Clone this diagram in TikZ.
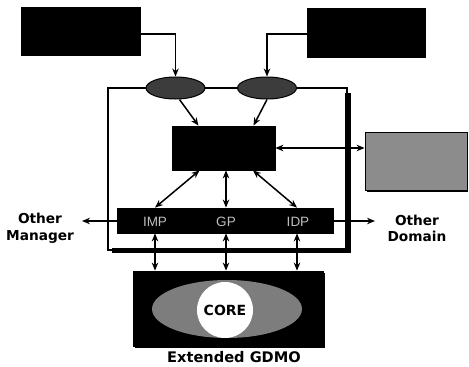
\documentclass[tikz,border=0pt]{standalone}
\usepackage{fontspec}
\setmainfont{DejaVu Sans}
\newfontfamily\libsans{Liberation Sans}
\usetikzlibrary{arrows.meta,calc,shapes.geometric}
\definecolor{midgray}{RGB}{140,140,140}
\definecolor{ellgray}{RGB}{60,60,60}
\definecolor{coregray}{RGB}{125,125,125}
\definecolor{lbltxt}{RGB}{190,190,190}
\begin{document}
\begin{tikzpicture}[x=1pt,y=-1pt,
  tip/.tip={Stealth[length=8pt,width=6.5pt]},
  arr/.style={line width=1.5pt,-tip},
  darr/.style={line width=1.5pt,tip-tip},
  blackbox/.style={draw=black,fill=black,inner sep=0pt,line width=0.8pt},
  topell/.style={ellipse,draw=black,fill=ellgray,line width=1pt,inner sep=0pt,minimum width=59pt,minimum height=22pt},
  lbl/.style={font=\bfseries\fontsize{13.7}{16.5}\selectfont,align=center,inner sep=0pt},
  bartxt/.style={font=\libsans\fontsize{13.5}{14}\selectfont,text=lbltxt,inner sep=0pt}
]
\useasboundingbox (0,0) rectangle (469,367);

% frame with shadow
\fill (345,93) rectangle (351,253);
\fill (112,248) rectangle (351,253);
\node[draw=black,line width=2pt,inner sep=0pt,minimum width=239pt,minimum height=162pt] (fr) at (227.5,169) {};

% top boxes
\node[blackbox,minimum width=119pt,minimum height=48pt] (tl) at (80.5,31) {};
\node[blackbox,minimum width=118pt,minimum height=49pt] (tr) at (366,32.5) {};

% ellipses
\node[topell] (e1) at (175.5,88) {};
\node[topell] (e2) at (267,88) {};

% central box
\node[blackbox,minimum width=103pt,minimum height=44pt] (cb) at (223.5,148) {};

% gray box with shadow
\fill (367,134) rectangle (468,192);
\node[draw=black,fill=midgray,line width=0.8pt,inner sep=0pt,minimum width=102pt,minimum height=58pt] (gb) at (416,161) {};

% protocol bar
\node[blackbox,minimum width=216pt,minimum height=25pt] (bar) at (225,220.5) {};
\node[bartxt] (imp) at (155,222) {IMP};
\node[bartxt] (gp) at (226,222) {GP};
\node[bartxt] (idp) at (298,222) {IDP};

% bottom box
\fill (135,273) rectangle (325,348);
\node[blackbox,minimum width=190pt,minimum height=75pt] (bb) at (228,308.5) {};
\node[ellipse,fill=coregray,inner sep=0pt,minimum width=150pt,minimum height=58pt] (cel) at (227,309) {};
\node[circle,fill=white,inner sep=0pt,minimum size=56pt,font=\bfseries\fontsize{14}{16}\selectfont] (core) at (225,310) {CORE};

% labels
\node[lbl] (om) at (40,228.5) {Other\\Manager};
\node[lbl] (od) at (417,228.5) {Other\\Domain};
\node[lbl,font=\bfseries\fontsize{14.6}{16}\selectfont] (eg) at (234,357.5) {Extended GDMO};

\coordinate (omend) at (82,221);
\coordinate (odend) at (375,221);

% connectors
\draw[arr] ($(tl.east)+(0,3)$) -| (e1.north);
\draw[arr] ($(tr.west)+(0,1.5)$) -| (e2.north);
\draw[arr] ($(e1.south)+(4,0)$) -- ($(cb.north)+(-25,0)$);
\draw[arr] ($(e2.south)+(0,0)$) -- ($(cb.north)+(30,0)$);
\draw[darr] (cb.east) -- (cb.east -| gb.west);
\draw[darr] ($(cb.south)+(-24,0)$) -- ($(bar.north)+(-70,0)$);
\draw[darr] ($(cb.south)+(2.5,0)$) -- ($(bar.north)+(1,0)$);
\draw[darr] ($(cb.south)+(29.5,0)$) -- ($(bar.north)+(72,0)$);
\draw[arr] (bar.west |- omend) -- (omend);
\draw[arr] (bar.east |- odend) -- (odend);
\draw[darr] ($(bar.south)+(-70,0)$) -- ($(bb.north)+(-73,0)$);
\draw[darr] ($(bar.south)+(1,0)$) -- ($(bb.north)+(-2,0)$);
\draw[darr] ($(bar.south)+(72,0)$) -- ($(bb.north)+(69,0)$);
\end{tikzpicture}
\end{document}
